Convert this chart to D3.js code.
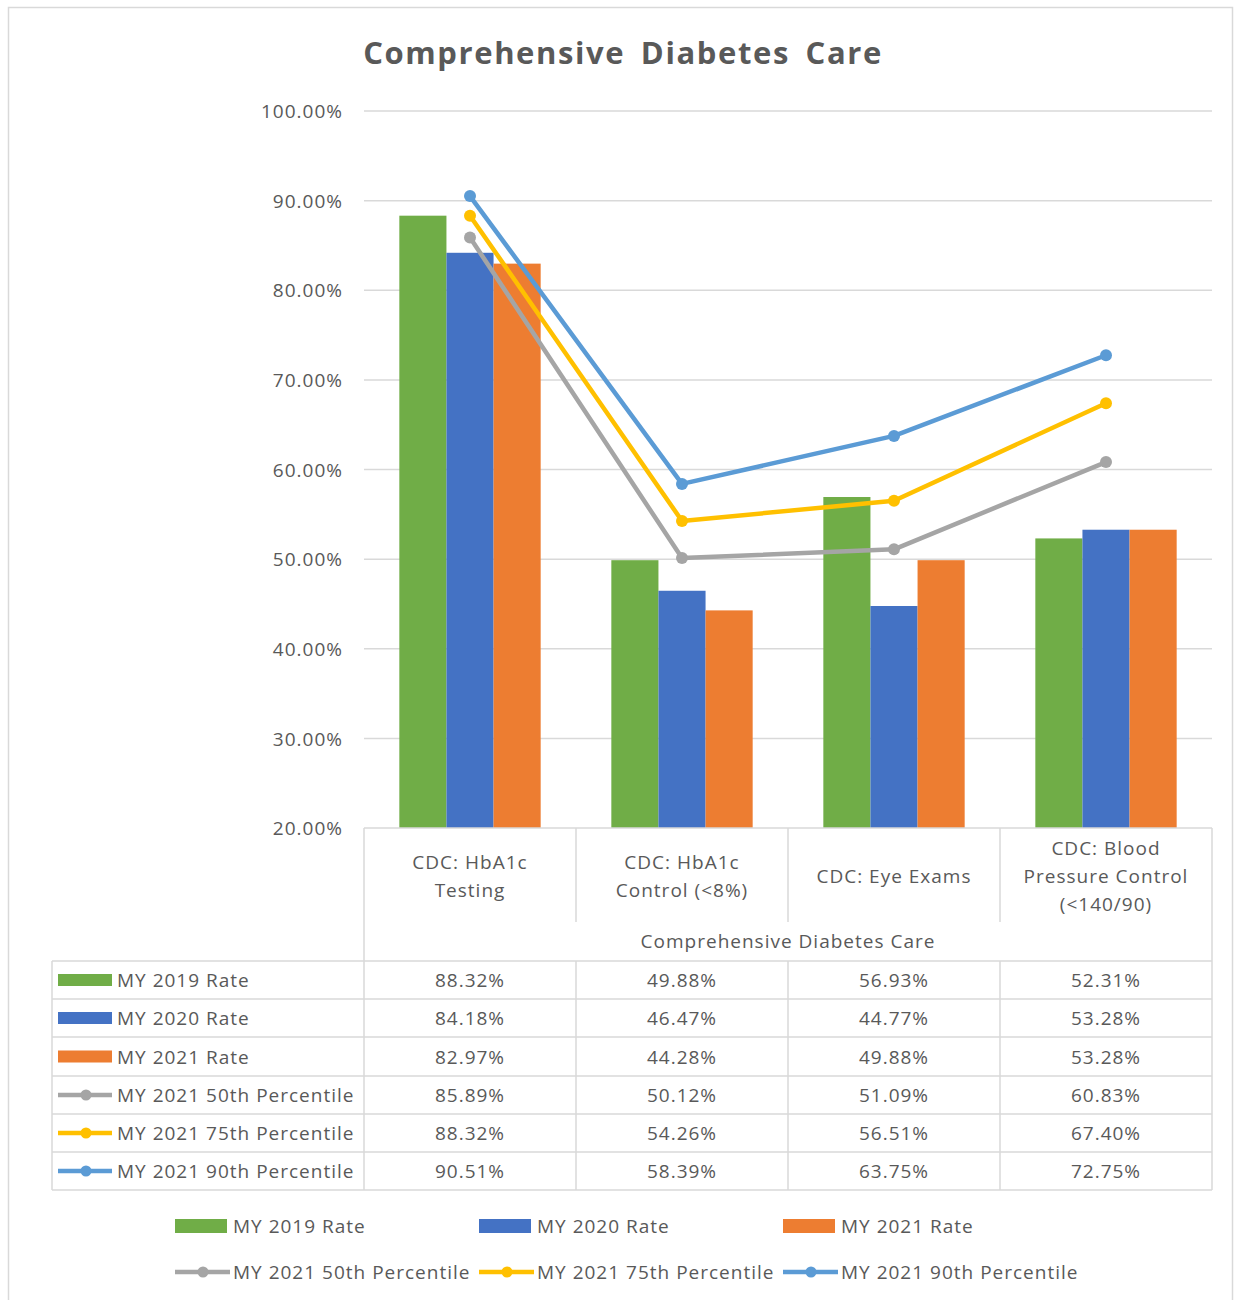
<!DOCTYPE html>
<html>
<head>
<meta charset="utf-8">
<script src="https://cdn.jsdelivr.net/npm/d3@7"></script>
<style>
  html, body { margin: 0; padding: 0; background: #fff; }
  svg { display: block; }
  text { font-family: "Open Sans", "Noto Sans", sans-serif; fill: #595959; letter-spacing: 1px; }
</style>
</head>
<body>
<script>
// Measures shown in the chart and the data table
const categories = [
  ["CDC: HbA1c", "Testing"],
  ["CDC: HbA1c", "Control (<8%)"],
  ["CDC: Eye Exams"],
  ["CDC: Blood", "Pressure Control", "(<140/90)"]
];
const groupLabel = "Comprehensive Diabetes Care";

// Bar series (rates as percentages)
const barSeries = ["MY 2019 Rate", "MY 2020 Rate", "MY 2021 Rate"];
const rate2019 = [88.32, 49.88, 56.93, 52.31];
const rate2020 = [84.18, 46.47, 44.77, 53.28];
const rate2021 = [82.97, 44.28, 49.88, 53.28];

// Line series (benchmarks)
const lineSeries = ["MY 2021 50th Percentile", "MY 2021 75th Percentile", "MY 2021 90th Percentile"];
const p50 = [85.89, 50.12, 51.09, 60.83];
const p75 = [88.32, 54.26, 56.51, 67.40];
const p90 = [90.51, 58.39, 63.75, 72.75];

const yTicks = [20, 30, 40, 50, 60, 70, 80, 90, 100];

const barColors = ["#70AD47", "#4472C4", "#ED7D31"];
const lineColors = ["#A5A5A5", "#FFC000", "#5B9BD5"];

const barValues = [rate2019, rate2020, rate2021];
const lineValues = [p50, p75, p90];
const catKeys = categories.map((c, i) => "c" + i);

const W = 1234, H = 1300;
const svg = d3.select("body").append("svg").attr("width", W).attr("height", H);

// Chart area border
svg.append("rect").attr("x", 8.5).attr("y", 7.5).attr("width", 1224).attr("height", 1300)
  .attr("fill", "none").attr("stroke", "#d9d9d9").attr("stroke-width", 1.5);

// Title
svg.append("text").attr("x", 623).attr("y", 64).attr("text-anchor", "middle")
  .style("font-size", "31px").style("font-weight", "bold").style("letter-spacing", "1.6px")
  .style("word-spacing", "6px")
  .text("Comprehensive Diabetes Care");

const plotL = 364, plotR = 1212, plotT = 111, plotB = 828;
const x = d3.scaleBand().domain(catKeys).range([plotL, plotR]).padding(0);
const y = d3.scaleLinear().domain([20, 100]).range([plotB, plotT]);
// Bars: gap width 150% of one bar on each cluster
const barW = x.bandwidth() / 4.5;
const xs = d3.scaleBand().domain(barSeries).range([-1.5 * barW, 1.5 * barW]).padding(0);

// Gridlines and y tick labels
const yAxis = d3.axisLeft(y).tickValues(yTicks).tickSize(0).tickPadding(0)
  .tickFormat(d => d3.format(".2f")(d) + "%");
const gy = svg.append("g").attr("transform", `translate(${plotL - 21},0)`).call(yAxis);
gy.select(".domain").remove();
gy.selectAll("text").style("font-size", "19px").style("fill", "#595959").attr("dy", "0.35em")
  .style("font-family", "'Open Sans', sans-serif").style("letter-spacing", "1px");
svg.append("g").selectAll("line").data(yTicks.filter(t => t > 20)).join("line")
  .attr("x1", plotL).attr("x2", plotR)
  .attr("y1", d => y(d)).attr("y2", d => y(d))
  .attr("stroke", "#d9d9d9").attr("stroke-width", 1.5);

// Bars
barSeries.forEach((s, si) => {
  svg.append("g").selectAll("rect").data(barValues[si]).join("rect")
    .attr("x", (d, i) => x(catKeys[i]) + x.bandwidth() / 2 + xs(s))
    .attr("width", xs.bandwidth())
    .attr("y", d => y(d))
    .attr("height", d => y(20) - y(d))
    .attr("fill", barColors[si]);
});

// Lines with markers
const cx = i => x(catKeys[i]) + x.bandwidth() / 2;
lineSeries.forEach((s, si) => {
  const vals = lineValues[si];
  const line = d3.line().x((d, i) => cx(i)).y(d => y(d));
  svg.append("path").datum(vals).attr("d", line)
    .attr("fill", "none").attr("stroke", lineColors[si]).attr("stroke-width", 4.5)
    .attr("stroke-linejoin", "round");
  svg.append("g").selectAll("circle").data(vals).join("circle")
    .attr("cx", (d, i) => cx(i)).attr("cy", d => y(d)).attr("r", 6)
    .attr("fill", lineColors[si]);
});

// Data table grid
const gridC = "#d9d9d9";
const tableL = 52;
const rowTops = [961, 999, 1037, 1076, 1114, 1152, 1190];
const g = svg.append("g").attr("stroke", gridC).attr("stroke-width", 1.5);
// table top (axis line)
g.append("line").attr("x1", plotL).attr("x2", plotR).attr("y1", plotB).attr("y2", plotB);
// horizontal row lines
rowTops.forEach(ry => {
  g.append("line").attr("x1", tableL).attr("x2", plotR).attr("y1", ry).attr("y2", ry);
});
// outer verticals
[plotL, plotR].forEach(vx => {
  g.append("line").attr("x1", vx).attr("x2", vx).attr("y1", plotB).attr("y2", rowTops[6]);
});
g.append("line").attr("x1", tableL).attr("x2", tableL).attr("y1", rowTops[0]).attr("y2", rowTops[6]);
// category separators
catKeys.slice(1).forEach(k => {
  const vx = x(k);
  g.append("line").attr("x1", vx).attr("x2", vx).attr("y1", plotB).attr("y2", 922);
  g.append("line").attr("x1", vx).attr("x2", vx).attr("y1", rowTops[0]).attr("y2", rowTops[6]);
});

// Category labels
categories.forEach((lines, i) => {
  const lh = 28;
  const mid = 876;
  const t = svg.append("text").attr("text-anchor", "middle").style("font-size", "19px");
  lines.forEach((ln, j) => {
    t.append("tspan").attr("x", cx(i))
      .attr("y", mid + (j - (lines.length - 1) / 2) * lh + 7)
      .text(ln);
  });
});
svg.append("text").attr("x", (plotL + plotR) / 2).attr("y", 948).attr("text-anchor", "middle")
  .style("font-size", "19px").text(groupLabel);

// Table rows
const allSeries = barSeries.concat(lineSeries);
const allValues = barValues.concat(lineValues);
const allColors = barColors.concat(lineColors);
allSeries.forEach((s, ri) => {
  const rc = (rowTops[ri] + rowTops[ri + 1]) / 2;
  // legend key
  if (ri < 3) {
    svg.append("rect").attr("x", 58).attr("y", rc - 6).attr("width", 54).attr("height", 12)
      .attr("fill", allColors[ri]);
  } else {
    svg.append("line").attr("x1", 58).attr("x2", 112).attr("y1", rc).attr("y2", rc)
      .attr("stroke", allColors[ri]).attr("stroke-width", 4.5);
    svg.append("circle").attr("cx", 86).attr("cy", rc).attr("r", 5.5).attr("fill", allColors[ri]);
  }
  svg.append("text").attr("x", 117).attr("y", rc + 7).style("font-size", "19px").text(s);
  allValues[ri].forEach((v, ci) => {
    svg.append("text").attr("x", cx(ci)).attr("y", rc + 7).attr("text-anchor", "middle")
      .style("font-size", "19px").text(d3.format(".2f")(v) + "%");
  });
});

// Legend
const legendPos = [
  [175, 1226], [479, 1226], [783, 1226],
  [175, 1272], [479, 1272], [783, 1272]
];
allSeries.forEach((s, i) => {
  const [lx, ly] = legendPos[i];
  if (i < 3) {
    svg.append("rect").attr("x", lx).attr("y", ly - 7).attr("width", 52).attr("height", 14)
      .attr("fill", allColors[i]);
  } else {
    svg.append("line").attr("x1", lx).attr("x2", lx + 55).attr("y1", ly).attr("y2", ly)
      .attr("stroke", allColors[i]).attr("stroke-width", 4.5);
    svg.append("circle").attr("cx", lx + 28).attr("cy", ly).attr("r", 5.5).attr("fill", allColors[i]);
  }
  svg.append("text").attr("x", lx + 58).attr("y", ly + 7).style("font-size", "19px").text(s);
});
</script>
</body>
</html>
